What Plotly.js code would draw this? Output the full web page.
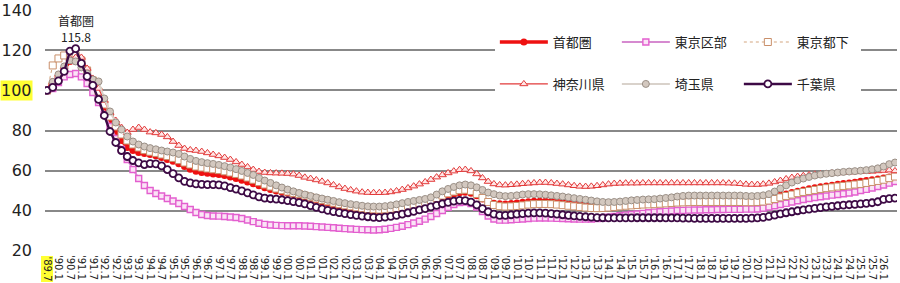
<!DOCTYPE html>
<html>
<head>
<meta charset="utf-8">
<script src="https://cdn.plot.ly/plotly-3.0.1.min.js"></script>
<style>
  html, body { margin: 0; padding: 0; background: #fff; }
  #chart { width: 900px; height: 283px; }
</style>
</head>
<body>
<div id="chart"></div>
<script>
// Half-year tick labels (one every second quarterly observation)
const periodLabels = [
  "'89.7","'90.1","'90.7","'91.1","'91.7","'92.1","'92.7","'93.1","'93.7","'94.1",
  "'94.7","'95.1","'95.7","'96.1","'96.7","'97.1","'97.7","'98.1","'98.7","'99.1",
  "'99.7","'00.1","'00.7","'01.1","'01.7","'02.1","'02.7","'03.1","'03.7","'04.1",
  "'04.7","'05.1","'05.7","'06.1","'06.7","'07.1","'07.7","'08.1","'08.7","'09.1",
  "'09.7","'10.1","'10.7","'11.1","'11.7","'12.1","'12.7","'13.1","'13.7","'14.1",
  "'14.7","'15.1","'15.7","'16.1","'16.7","'17.1","'17.7","'18.1","'18.7","'19.1",
  "'19.7","'20.1","'20.7","'21.1","'21.7","'22.1","'22.7","'23.1","'23.7","'24.1",
  "'24.7","'25.1","'25.7","'26.1","'26.7"
];

// Quarterly index values ('89.7 = 100)
const shutoken = [
  100,104.3,107.2,111,114.5,115.8,113,108.5,104,98.5,
  92,85.5,79.5,75,71.5,70,69,68.5,68,67.4,
  66.5,65.5,64.6,63.4,62,60.6,59.6,59,58.6,58.3,
  58,57.5,56.8,56,55.2,54.3,53.4,52.4,51.4,50.5,
  49.8,49.2,48.6,48,47.4,46.7,46,45.2,44.4,43.6,
  42.8,42,41.3,40.6,40,39.5,39.1,38.8,38.7,38.8,
  39.1,39.5,40,40.6,41.3,42,42.8,43.8,44.8,46,
  47.1,48.1,48.9,49.2,48.7,47.4,45.8,44.5,43.7,43.4,
  43.3,43.5,43.8,44.1,44.4,44.6,44.7,44.7,44.6,44.4,
  44.1,43.8,43.5,43.3,43.1,43,43,43.1,43.3,43.5,
  43.7,43.9,44.1,44.3,44.5,44.6,44.7,44.8,44.9,45,
  45.1,45.2,45.3,45.3,45.4,45.4,45.5,45.5,45.5,45.5,
  45.5,45.4,45.3,45.3,45.4,45.7,46.2,46.9,47.6,48.3,
  49,49.7,50.3,50.9,51.4,51.9,52.3,52.7,53.1,53.5,
  53.8,54.2,54.6,55,55.4,55.8,56.3,56.8,57.3
];
const tokyoKubu = [
  100,101,104,106.8,108,108.5,106.8,103.5,99,94,
  88,82,76,70.5,65.5,60.5,56,52.5,50,48.5,
  47.3,46,44.8,43.5,42,40.5,39,38,37.5,37.3,
  37.2,37,36.8,36.5,36,35.3,34.5,33.7,33.1,32.8,
  32.6,32.5,32.4,32.4,32.4,32.3,32.2,32,31.8,31.6,
  31.4,31.2,31,30.8,30.6,30.5,30.4,30.3,30.4,30.7,
  31.1,31.6,32.2,33,33.8,34.7,35.7,37,38.5,40,
  41.6,43,44,44.3,43.5,41.8,39.5,37.3,35.8,35.2,
  35.2,35.4,35.6,35.8,36,36.2,36.3,36.3,36.2,36.1,
  36,35.9,35.8,35.7,35.7,35.8,36,36.3,36.7,37,
  37.4,37.7,38,38.3,38.6,38.9,39.2,39.4,39.6,39.8,
  40,40.1,40.2,40.3,40.3,40.4,40.4,40.5,40.5,40.6,
  40.6,40.6,40.7,40.7,40.8,41.2,41.8,42.4,43,43.6,
  44.3,44.9,45.5,46,46.5,46.9,47.3,47.7,48,48.4,
  48.8,49.3,50,50.6,51.3,52,52.8,53.7,54.5
];
const tokyoTama = [
  100,112.5,116,117.5,116.5,117.5,115,110,105,99.5,
  93,87,82,78,75,73,71.5,70.2,69.4,68.8,
  68,67.2,66.3,65.2,64,63,62,61.5,61,60.6,
  60.2,59.6,59,58.3,57.5,56.5,55.4,54.2,53,52,
  51,50.2,49.5,48.8,48.2,47.5,46.7,46,45.3,44.6,
  43.9,43.2,42.6,42.1,41.6,41.2,40.8,40.6,40.5,40.6,
  40.9,41.3,41.8,42.4,43,43.6,44.3,45.2,46.3,47.5,
  48.6,49.5,50.2,50.4,49.8,48.3,46.3,44.3,42.8,42.2,
  42,42.1,42.3,42.6,43,43.2,43.3,43.3,43.2,43,
  42.7,42.4,42.1,41.8,41.5,41.3,41.2,41.3,41.5,41.8,
  42.1,42.4,42.6,42.8,43,43.1,43.2,43.4,43.6,43.8,
  44,44.1,44.2,44.3,44.3,44.3,44.3,44.3,44.3,44.3,
  44.3,44.3,44.2,44.2,44.3,44.5,45,45.8,46.6,47.3,
  48,48.7,49.3,49.8,50.3,50.8,51.2,51.6,52,52.3,
  52.6,53,53.3,53.8,54.3,54.8,55.4,56.2,57
];
const kanagawa = [
  100,104,108,112,116,116.5,116.5,111,106,101,
  95,89,85,81.5,79,80.5,81.5,80.5,79.2,78.8,
  78,76.8,74.5,72.5,71,70.3,70,69.5,68.8,68,
  67.3,66.5,65.5,64.3,63,61.8,60.5,59.5,59,58.8,
  58.7,58.6,58.5,58.2,57.5,56.6,56,55.3,54.6,53.8,
  52.8,51.8,51,50.3,49.7,49.2,49,48.9,48.9,49,
  49.3,49.8,50.5,51.3,52.2,53.2,54.3,55.5,56.7,57.8,
  58.8,59.7,60.4,60.5,59.8,58.3,56.3,54.5,53.3,52.8,
  52.7,52.9,53.1,53.4,53.6,53.8,54,54,53.8,53.5,
  53.2,52.8,52.4,52.1,52,52.1,52.4,52.8,53.2,53.5,
  53.6,53.7,53.7,53.7,53.8,53.8,53.8,53.8,53.8,53.8,
  53.8,53.8,53.8,53.8,53.8,53.8,53.8,53.8,53.8,53.7,
  53.6,53.4,53.1,53,53,53.2,53.6,54.3,55,55.8,
  56.5,57,57.4,57.8,58.1,58.3,58.5,58.7,58.8,59,
  59.2,59.3,59.4,59.5,59.6,59.8,60,60.2,59.8
];
const saitama = [
  100,104.3,108,112,115,114.5,111.5,108.5,105.5,104.5,
  96,89.5,84,80.5,77,74.5,73,72,71.2,70.6,
  70,69.5,69,68.3,67,65.8,64.8,64.2,63.7,63.3,
  62.8,62.2,61.5,60.7,59.8,58.8,57.8,56.3,55,53.8,
  52.6,51.5,50.5,49.6,48.8,48,47.3,46.6,46,45.4,
  44.8,44.2,43.7,43.2,42.8,42.4,42.1,42,42,42.2,
  42.6,43.1,43.7,44.3,44.8,45.3,45.8,46.6,48,49.6,
  50.8,51.8,52.6,53,52.6,51.6,50.3,49,48.2,47.5,
  47.2,47.3,47.6,48,48.2,48.2,48.1,47.9,47.6,47.3,
  47,46.6,46.2,45.8,45.4,45,44.6,44.3,44.2,44.3,
  44.5,44.8,45.1,45.3,45.5,45.6,45.7,46,46.3,46.6,
  47,47.3,47.5,47.5,47.5,47.5,47.5,47.5,47.5,47.5,
  47.5,47.5,47.3,47.2,47.3,47.6,48.2,49.5,51,52.6,
  54,55.1,56,56.8,57.5,58,58.4,58.7,59,59.3,
  59.5,59.7,59.9,60.2,60.6,61.1,62,63.2,64
];
const chiba = [
  100,101.5,104.8,109.5,119.7,120.9,113.5,107,102.5,95.5,
  87.5,79.5,74,70,67,65,63.8,63,63.5,63.3,
  62.3,60.5,58.5,56.3,54.6,53.8,53.3,53.1,53,53,
  52.8,52.3,51.5,50.7,49.8,48.8,47.8,46.8,46.2,45.9,
  45.7,45.4,45,44.5,44,43.3,42.5,41.6,40.8,40.1,
  39.5,39,38.5,38,37.6,37.2,36.9,36.6,36.5,36.7,
  37.1,37.6,38.2,38.9,39.6,40.3,41,41.8,42.6,43.4,
  44.1,44.7,45.1,45,44.2,42.8,41,39.4,38.2,37.6,
  37.6,37.9,38.2,38.5,38.7,38.8,38.8,38.7,38.5,38.2,
  37.9,37.6,37.3,37.1,36.9,36.7,36.5,36.4,36.3,36.3,
  36.3,36.3,36.3,36.4,36.4,36.4,36.4,36.4,36.3,36.3,
  36.3,36.2,36.2,36.1,36.1,36.1,36.1,36.1,36.1,36.1,
  36.1,36.1,36.1,36.2,36.3,36.6,37.1,37.7,38.3,38.9,
  39.4,39.9,40.3,40.7,41.1,41.5,41.8,42.1,42.4,42.7,
  42.9,43.1,43.3,43.6,43.9,44.4,45.6,46,46.2
];

const seriesNames = ['首都圏', '東京区部', '東京都下', '神奈川県', '埼玉県', '千葉県'];
const yTickValues = [20, 40, 60, 80, 100, 120, 140];
const highlightedY = 100;
const highlightedPeriod = "'89.7";

const quarterIdx = shutoken.map((_, i) => i);
const tickIdx = periodLabels.map((_, k) => 2 * k);

const styles = [
  { line: { color: '#ee1111', width: 3.4 },
    marker: { symbol: 'circle', size: 7, color: '#ee1111', line: { width: 0 } }, legend: 'legend' },
  { line: { color: '#d68ad0', width: 2 },
    marker: { symbol: 'square', size: 6, color: '#fbe3f6', line: { color: '#e35fcf', width: 1.4 } }, legend: 'legend' },
  { line: { color: '#d3a57e', width: 1, dash: 'dot' },
    marker: { symbol: 'square', size: 7, color: '#ffffff', line: { color: '#c98f6a', width: 1 } }, legend: 'legend' },
  { line: { color: '#e23a3a', width: 1.3 },
    marker: { symbol: 'triangle-up', size: 7, color: '#ffe6e6', line: { color: '#e23a3a', width: 1 } }, legend: 'legend2' },
  { line: { color: '#d9d2cb', width: 2 },
    marker: { symbol: 'circle', size: 7, color: '#d3c8bf', line: { color: '#9a8f86', width: 1 } }, legend: 'legend2' },
  { line: { color: '#3d0a45', width: 2.4 },
    marker: { symbol: 'circle', size: 7, color: '#ffffff', line: { color: '#3d0a45', width: 1.8 } }, legend: 'legend2' }
];

const seriesValues = [shutoken, tokyoKubu, tokyoTama, kanagawa, saitama, chiba];

const traces = seriesValues.map((vals, s) => ({
  type: 'scatter',
  mode: 'lines+markers',
  name: seriesNames[s],
  x: quarterIdx,
  y: vals,
  line: styles[s].line,
  marker: styles[s].marker,
  legend: styles[s].legend,
  hoverinfo: 'skip'
}));

// Peak of the capital-region series, labelled with its name and value
const peakVal = Math.max(...shutoken);
const peakIdx = shutoken.indexOf(peakVal);

const legendCommon = {
  orientation: 'h',
  xref: 'paper', yref: 'paper',
  x: 0.528, xanchor: 'left', yanchor: 'middle',
  bgcolor: '#ffffff',
  borderwidth: 0,
  itemwidth: 48,
  entrywidth: 59, entrywidthmode: 'pixels',
  font: { family: 'Noto Sans CJK JP, sans-serif', size: 13, color: '#222' },
  itemclick: false, itemdoubleclick: false
};

const annoFont = { family: 'Noto Sans CJK JP, DejaVu Sans, sans-serif', size: 12, color: '#222' };

const layout = {
  width: 900, height: 283,
  margin: { l: 45, r: 3, t: 10, b: 32 },
  paper_bgcolor: '#ffffff',
  plot_bgcolor: '#ffffff',
  font: { family: 'DejaVu Sans, Noto Sans CJK JP, sans-serif', color: '#222' },
  showlegend: true,
  legend: Object.assign({}, legendCommon, { y: 0.867 }),
  legend2: Object.assign({}, legendCommon, { y: 0.693 }),
  xaxis: {
    range: [-0.35, 148.35],
    tickmode: 'array',
    tickvals: tickIdx,
    ticktext: periodLabels.map(t => t === highlightedPeriod ? '' : t),
    tickangle: 90,
    tickfont: { size: 10, color: '#222' },
    ticks: '',
    showgrid: false, zeroline: false, showline: false,
    ticklabelstandoff: 3,
    fixedrange: true
  },
  yaxis: {
    range: [19.8, 140.2],
    tickmode: 'array',
    tickvals: yTickValues,
    ticktext: yTickValues.map(v => v === highlightedY ? '' : String(v)),
    tickfont: { size: 16, color: '#222' },
    ticks: '',
    showgrid: true, gridcolor: '#888888', gridwidth: 2,
    zeroline: false, showline: false,
    ticklabelstandoff: 12,
    fixedrange: true
  },
  annotations: [
    {
      x: peakIdx, y: peakVal, xref: 'x', yref: 'y',
      text: peakVal.toFixed(1),
      showarrow: false, yanchor: 'middle', yshift: 22,
      font: annoFont
    },
    {
      x: peakIdx, y: peakVal, xref: 'x', yref: 'y',
      text: seriesNames[0],
      showarrow: false, yanchor: 'middle', yshift: 38.5,
      font: annoFont
    },
    {
      x: 0, xref: 'paper', xanchor: 'right', xshift: -12,
      y: highlightedY, yref: 'y', yanchor: 'middle',
      text: String(highlightedY), showarrow: false,
      bgcolor: '#ffff33', borderpad: 0,
      font: { family: 'DejaVu Sans, sans-serif', size: 16, color: '#222' }
    },
    {
      x: 0, xref: 'x', xanchor: 'center',
      y: 0, yref: 'paper', yanchor: 'top', yshift: -4,
      text: highlightedPeriod, textangle: 90, showarrow: false,
      bgcolor: '#ffff33', borderpad: 0,
      font: { family: 'DejaVu Sans, sans-serif', size: 10, color: '#222' }
    }
  ]
};

Plotly.newPlot('chart', traces, layout, { displayModeBar: false, staticPlot: true });
</script>
</body>
</html>
